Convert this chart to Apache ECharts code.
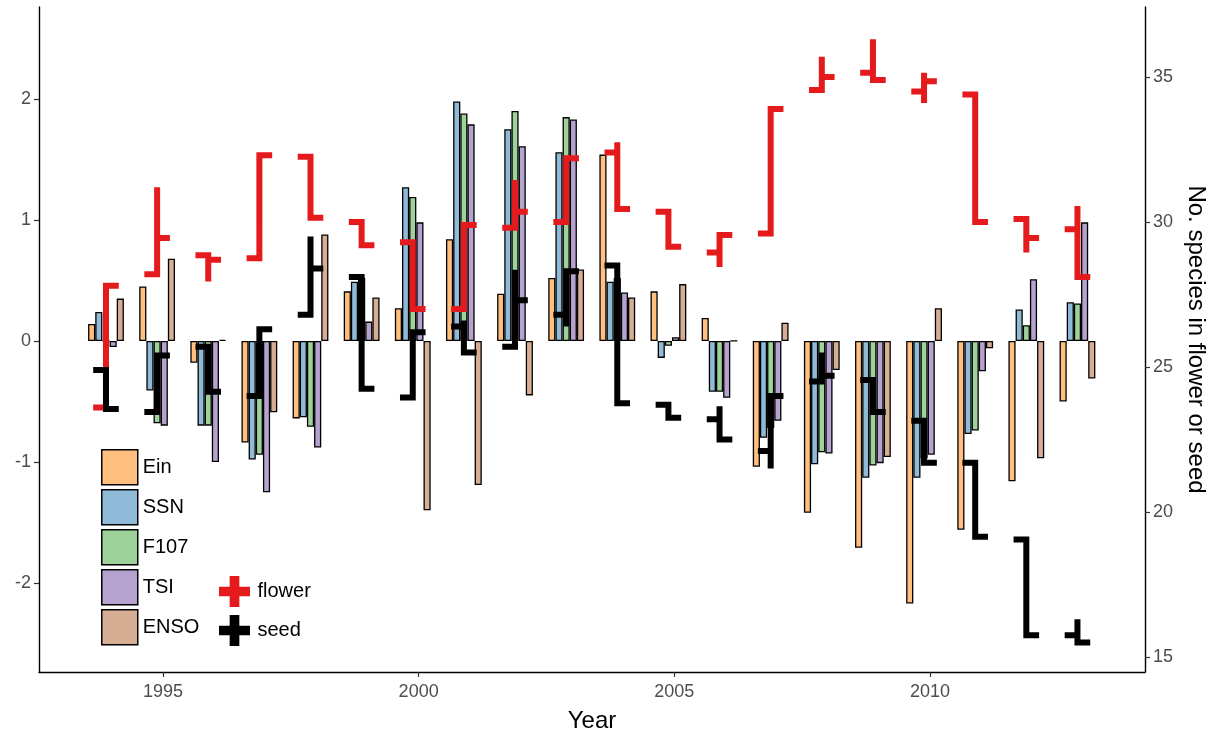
<!DOCTYPE html>
<html>
<head>
<meta charset="utf-8">
<script src="https://cdn.jsdelivr.net/npm/echarts@6/dist/echarts.min.js"></script>
<style>html,body{margin:0;padding:0;background:#fff}#c{width:1217px;height:734px}</style>
</head>
<body>
<div id="c"></div>
<script>
// ---- data ----
const years = [1994,1995,1996,1997,1998,1999,2000,2001,2002,2003,2004,2005,2006,2007,2008,2009,2010,2011,2012,2013];
const ein  = [0.14, 0.45,-0.18,-0.84,-0.64, 0.41, 0.27, 0.84, 0.39, 0.52, 1.54, 0.41, 0.19,-1.04,-1.42,-1.71,-2.17,-1.56,-1.16,-0.50];
const ssn  = [0.24,-0.41,-0.70,-0.98,-0.63, 0.49, 1.27, 1.98, 1.75, 1.56, 0.49,-0.14,-0.42,-0.80,-1.02,-1.13,-1.13,-0.77, 0.26, 0.32];
const f107 = [0.00,-0.68,-0.70,-0.94,-0.71, 0.52, 1.19, 1.88, 1.90, 1.85, 0.52,-0.04,-0.42,-0.72,-0.92,-1.03,-0.97,-0.74, 0.13, 0.31];
const tsi  = [-0.05,-0.70,-1.00,-1.25,-0.88, 0.16, 0.98, 1.79, 1.61, 1.83, 0.40, 0.03,-0.47,-0.66,-0.93,-1.01,-0.94,-0.25, 0.51, 0.98];
const enso = [0.35, 0.68, 0.01,-0.59, 0.88, 0.36,-1.40,-1.19,-0.45, 0.59, 0.36, 0.47, 0.00, 0.15,-0.24,-0.96, 0.27,-0.06,-0.97,-0.31];
// step values per year (first = left level, last = right level, middle = values passed on the jump)
const flower = [
  [23.6, 27.8],[28.2, 31.2, 29.45],[28.85, 27.95, 28.7],[28.75, 32.3],[32.25, 30.15],
  [30.0, 29.2],[29.3, 27.0],[27.0, 29.9],[29.8, 31.45, 30.35],[30.0, 32.2],
  [32.4, 32.75, 30.45],[30.35, 29.15],[28.95, 28.45, 29.55],[29.6, 33.9],[34.55, 35.7, 35.0],
  [35.15, 36.3, 34.9],[34.5, 34.1, 35.15, 34.85],[34.4, 30.0],[30.1, 28.95, 29.45],[29.75, 30.55, 28.1]
];
const seed = [
  [24.9, 23.55],[23.45, 25.4],[25.7, 24.15],[24.0, 26.3],[26.8, 29.5, 28.4],
  [28.1, 24.25],[23.95, 26.2],[26.4, 26.6, 25.5],[25.7, 28.35, 27.3],[26.8, 26.4, 28.3],
  [28.5, 23.75],[23.7, 23.25],[23.2, 23.65, 22.5],[22.1, 21.5, 24.0],[24.5, 25.5, 24.7],
  [24.55, 23.45],[23.15, 21.7],[21.7, 19.15],[19.05, 15.75],[15.75, 16.3, 15.5]
];
const barNames = ['Ein','SSN','F107','TSI','ENSO'];
const barColors = ['#FFBF7F','#8FBBD9','#9DD39A','#B5A2CF','#D7AE94'];
const leftTicks = [-2,-1,0,1,2];
const rightTicks = [15,20,25,30,35];
const xTicks = [1995,2000,2005,2010];

// ---- layout / styling ----
const FONT = 'Liberation Sans, Arial, sans-serif';
const groupShift = -0.115;   // bar group centre relative to the year
const halfStep = 0.25;       // half width of each step glyph (years)
const barSeriesVals = [ein, ssn, f107, tsi, enso];

function stepPoints(arr) {
  const pts = [];
  years.forEach((y, i) => {
    const c = y + groupShift;
    const v = arr[i];
    pts.push([c - halfStep, v[0]]);
    v.forEach(val => pts.push([c, val]));
    pts.push([c + halfStep, v[v.length - 1]]);
    pts.push([c, '-']);
  });
  return pts;
}

const chart = echarts.init(document.getElementById('c'), null, {renderer: 'canvas'});
const plus = 'path://M11,0H21V11H32V21H21V32H11V21H0V11H11Z';

const series = barSeriesVals.map((vals, k) => ({
  name: barNames[k],
  type: 'bar',
  xAxisIndex: 0, yAxisIndex: 0,
  barWidth: 7.16,
  barGap: '0%',
  itemStyle: {color: barColors[k], borderColor: '#000', borderWidth: 1.3},
  emphasis: {disabled: true},
  data: years.map((y, i) => [y + groupShift, vals[i]]),
  z: 2
}));
series.push({
  name: 'flower', type: 'line', yAxisIndex: 1,
  data: stepPoints(flower), symbol: 'none', connectNulls: false,
  lineStyle: {color: '#E41A1C', width: 6, cap: 'butt', join: 'miter'},
  itemStyle: {color: '#E41A1C'}, z: 3, silent: true
});
series.push({
  name: 'seed', type: 'line', yAxisIndex: 1,
  data: stepPoints(seed), symbol: 'none', connectNulls: false,
  lineStyle: {color: '#000', width: 6, cap: 'butt', join: 'miter'},
  itemStyle: {color: '#000'}, z: 4, silent: true
});

const axisLineStyle = {color: '#000', width: 1.4};
const tickLabel = {fontFamily: FONT, fontSize: 18, color: '#4D4D4D'};
chart.setOption({
  animation: false,
  backgroundColor: '#fff',
  grid: {left: 39, right: 72, top: 7, bottom: 62, containLabel: false, outerBoundsMode: 'none'},
  xAxis: {
    type: 'value', min: 1992.575, max: 2014.206,
    name: 'Year', nameLocation: 'middle', nameGap: 37,
    nameTextStyle: {fontFamily: FONT, fontSize: 24, color: '#000'},
    axisLine: {show: true, onZero: false, lineStyle: axisLineStyle},
    axisTick: {show: true, length: 5, lineStyle: {color: '#333', width: 1.2}, customValues: xTicks},
    axisLabel: Object.assign({margin: 11, customValues: xTicks, formatter: v => String(v)}, tickLabel),
    splitLine: {show: false}
  },
  yAxis: [{
    type: 'value', min: -2.736, max: 2.76, position: 'left',
    axisLine: {show: true, onZero: false, lineStyle: axisLineStyle},
    axisTick: {show: true, length: 5, lineStyle: {color: '#333', width: 1.2}, customValues: leftTicks},
    axisLabel: Object.assign({margin: 8, customValues: leftTicks, formatter: v => String(v)}, tickLabel),
    splitLine: {show: false}
  }, {
    type: 'value', min: 14.483, max: 37.414, position: 'right',
    name: 'No. species in flower or seed', nameLocation: 'middle', nameRotate: -90, nameGap: 38,
    nameTextStyle: {fontFamily: FONT, fontSize: 24, color: '#000'},
    axisLine: {show: true, onZero: false, lineStyle: axisLineStyle},
    axisTick: {show: true, length: 5, lineStyle: {color: '#333', width: 1.2}, customValues: rightTicks},
    axisLabel: Object.assign({margin: 8, customValues: rightTicks, formatter: v => String(v)}, tickLabel),
    splitLine: {show: false}
  }],
  legend: [{
    data: barNames, orient: 'vertical', left: 101, top: 449, padding: 0,
    itemWidth: 36, itemHeight: 35, itemGap: 3.5, icon: 'rect', selectedMode: false,
    itemStyle: {borderColor: '#000', borderWidth: 1.5},
    textStyle: {fontFamily: FONT, fontSize: 20, color: '#000'}
  }, {
    data: [{name: 'flower', icon: plus}, {name: 'seed', icon: plus}],
    orient: 'vertical', left: 219, top: 576, padding: 0,
    itemWidth: 32, itemHeight: 31, itemGap: 8, selectedMode: false,
    itemStyle: {borderWidth: 0},
    lineStyle: {width: 0},
    textStyle: {fontFamily: FONT, fontSize: 20, color: '#000', padding: [0, 0, 0, 2]}
  }],
  series: series
});
</script>
</body>
</html>
